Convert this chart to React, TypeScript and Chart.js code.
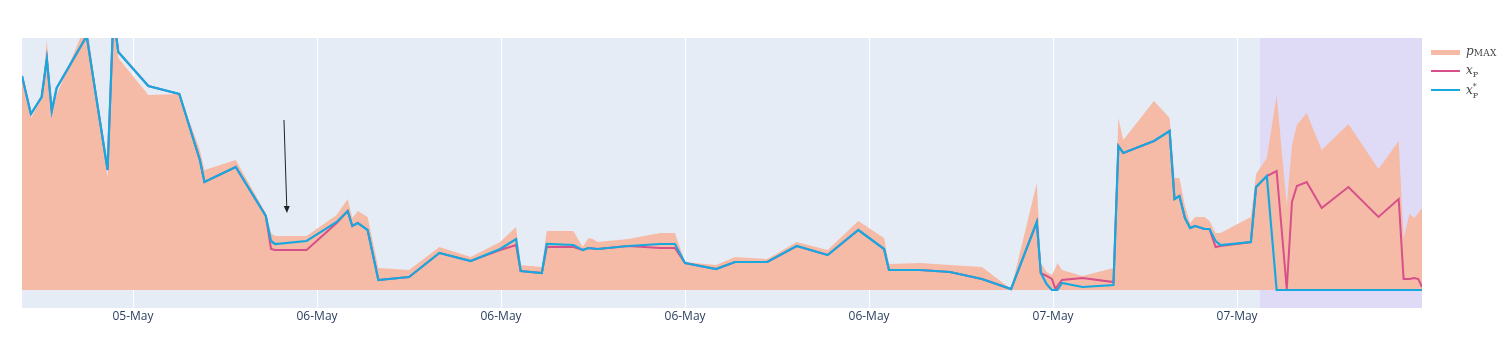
import React, { useEffect, useRef } from "react";
import { Chart, registerables } from "chart.js";

Chart.register(...registerables);

// hours since 05-May 00:00
const timeHours = [
  14.38, 14.67, 15.02, 15.19, 15.35, 15.51, 16.49, 17.17, 17.36, 17.52,
  18.5, 19.51, 20.18, 20.33, 21.35, 22.33, 22.5, 22.63, 23.66, 24.64,
  25.0, 25.15, 25.33, 25.65, 26.0, 27.0, 27.99, 29.01, 29.97, 30.49,
  30.64, 31.33, 31.49, 32.36, 32.66, 32.85, 32.99, 33.15, 34.15, 35.19,
  35.67, 36.0, 37.01, 37.63, 38.68, 39.64, 40.65, 41.65, 42.49, 42.65,
  43.66, 44.64, 45.68, 46.63, 47.47, 47.6, 47.79, 47.96, 48.08, 48.14,
  48.29, 48.96, 49.97, 50.13, 50.29, 51.29, 51.8, 51.96, 52.12, 52.3,
  52.47, 52.63, 52.94, 53.1, 53.3, 53.46, 54.45, 54.62, 54.97, 55.29,
  55.62, 55.79, 55.95, 56.27, 56.76, 57.63, 58.61, 59.27, 59.43, 59.62,
  59.78, 59.91, 60.03,
];

const pMax = [
  210, 172, 192, 250, 179, 195, 268, 112, 275, 232,
  195, 196, 140, 120, 130, 77, 57, 54, 54, 75,
  91, 72, 79, 73, 22, 20, 43, 33, 48, 63,
  25, 23, 59, 59, 43, 52, 51, 48, 51, 57,
  57, 28, 25, 33, 31, 48, 40, 69, 52, 26,
  27, 25, 23, 1, 107, 27, 18, 15, 22, 27,
  20, 14, 22, 172, 150, 189, 172, 112, 112, 84,
  67, 73, 73, 69, 57, 57, 73, 116, 132, 195,
  85, 145, 165, 177, 140, 166, 121, 149, 52, 76,
  72, 77, 82,
];

const xP = [
  214, 176, 193, 231, 179, 202, 254, 120, 275, 238,
  204, 196, 130, 108, 123, 74, 41, 40, 40, 67,
  79, 64, 67, 60, 10, 13, 37, 29, 40, 45,
  19, 17, 43, 43, 40, 42, 41.5, 41, 44, 42,
  42, 27, 21, 28, 28, 44, 35, 60, 41, 20,
  20, 18, 11, 1, 68, 17, 14, 11, 1, 4,
  10, 12, 8, 144, 137, 149, 159, 91, 94, 72,
  62, 64, 61, 61, 43, 44, 48, 103, 114, 119,
  1, 88, 104, 108, 82, 103, 73, 91, 11, 11,
  12, 11, 3,
];

const xPStar = [
  214, 176, 193, 231, 179, 202, 254, 120, 275, 238,
  204, 196, 130, 108, 123, 74, 49, 46, 49, 68,
  79, 64, 67, 60, 10, 13, 37, 29, 41, 51,
  19, 17, 46, 45, 40, 42, 41.5, 41, 44, 46,
  46, 27, 21, 28, 28, 44, 35, 60, 41, 20,
  20, 18, 11, 1, 68, 17, 6, 0, 0, 0,
  7, 3, 5, 144, 137, 149, 159, 91, 94, 72,
  62, 64, 61, 61, 49, 45, 48, 103, 114, 0,
  0, 0, 0, 0, 0, 0, 0, 0, 0, 0,
  0, 0, 0,
];

const tickHours = [18, 24, 30, 36, 42, 48, 54];
const monthLabel = "May";
const shadeRange = [54.75, 60.03];
const arrowTarget = { x: 23.02, y: 77 };

const X_MIN = 14.38;
const X_MAX = 60.03;
const Y_MIN = -18;
const Y_MAX = 252;

const PINK = "#d6508a";
const BLUE = "#17a8e0";
const FILL = "#f6bba7";

function toPoints(vals: number[]) {
  return vals.map((v, i) => ({ x: timeHours[i], y: v }));
}

export default function App() {
  const ref = useRef<HTMLCanvasElement | null>(null);

  useEffect(() => {
    if (!ref.current) return;

    const bgPlugin = {
      id: "plotBg",
      beforeDraw(chart: any) {
        const { ctx, chartArea } = chart;
        ctx.save();
        ctx.fillStyle = "#e5ecf6";
        ctx.fillRect(chartArea.left, chartArea.top, chartArea.right - chartArea.left, chartArea.bottom - chartArea.top);
        ctx.restore();
      },
      beforeDatasetsDraw(chart: any) {
        const { ctx, chartArea, scales } = chart;
        const x0 = scales.x.getPixelForValue(shadeRange[0]);
        const x1 = scales.x.getPixelForValue(shadeRange[1]);
        ctx.save();
        ctx.fillStyle = "#dfdbf7";
        ctx.fillRect(x0, chartArea.top, x1 - x0, chartArea.bottom - chartArea.top);
        ctx.restore();
      },
      afterDatasetsDraw(chart: any) {
        const { ctx, scales } = chart;
        const hx = scales.x.getPixelForValue(arrowTarget.x);
        const hy = scales.y.getPixelForValue(arrowTarget.y);
        const tx = hx - 3;
        const ty = hy - 93;
        const ang = Math.atan2(hy - ty, hx - tx);
        ctx.save();
        ctx.strokeStyle = "#222";
        ctx.fillStyle = "#222";
        ctx.lineWidth = 1;
        ctx.beginPath();
        ctx.moveTo(tx, ty);
        ctx.lineTo(hx - Math.cos(ang) * 4, hy - Math.sin(ang) * 4);
        ctx.stroke();
        ctx.beginPath();
        ctx.moveTo(hx, hy);
        ctx.lineTo(hx - Math.cos(ang) * 7 + Math.sin(ang) * 3, hy - Math.sin(ang) * 7 - Math.cos(ang) * 3);
        ctx.lineTo(hx - Math.cos(ang) * 7 - Math.sin(ang) * 3, hy - Math.sin(ang) * 7 + Math.cos(ang) * 3);
        ctx.closePath();
        ctx.fill();
        ctx.restore();
      },
    };

    const chart = new Chart(ref.current, {
      type: "line",
      data: {
        datasets: [
          {
            label: "x*P",
            data: toPoints(xPStar),
            borderColor: BLUE,
            borderWidth: 2.2,
            pointRadius: 0,
            fill: false,
            tension: 0,
            order: 0,
          },
          {
            label: "xP",
            data: toPoints(xP),
            borderColor: PINK,
            borderWidth: 2,
            pointRadius: 0,
            fill: false,
            tension: 0,
            order: 1,
          },
          {
            label: "pMAX",
            data: toPoints(pMax),
            borderColor: FILL,
            borderWidth: 0,
            backgroundColor: FILL,
            pointRadius: 0,
            fill: "origin",
            tension: 0,
            order: 2,
          },
        ],
      },
      options: {
        responsive: false,
        animation: false,
        layout: { padding: { left: 22, right: 90, top: 38, bottom: 0 } },
        plugins: { legend: { display: false }, tooltip: { enabled: false } },
        scales: {
          x: {
            type: "linear",
            min: X_MIN,
            max: X_MAX,
            grid: { color: "#ffffff", lineWidth: 1, drawTicks: false },
            border: { display: false },
            afterBuildTicks: (scale: any) => {
              scale.ticks = tickHours.map((v) => ({ value: v }));
            },
            afterFit: (scale: any) => {
              scale.height = 48;
            },
            ticks: {
              padding: 1,
              color: "#2a3f5f",
              font: { family: "'Open Sans', sans-serif", size: 12 },
              maxRotation: 0,
              autoSkip: false,
              callback: (v: any) => {
                const day = 5 + Math.floor(Number(v) / 24);
                return `${String(day).padStart(2, "0")}-${monthLabel}`;
              },
            },
          },
          y: {
            type: "linear",
            min: Y_MIN,
            max: Y_MAX,
            display: false,
            grid: { display: false },
          },
        },
      },
      plugins: [bgPlugin],
    });
    return () => chart.destroy();
  }, []);

  const textStyle: React.CSSProperties = {
    position: "absolute",
    left: 1466,
    fontFamily: "'DejaVu Serif', 'Liberation Serif', serif",
    color: "#444",
    fontSize: 12,
    lineHeight: "14px",
    whiteSpace: "nowrap",
  };

  return (
    <div style={{ position: "fixed", left: 0, top: 0, width: 1512, height: 356, background: "#fff" }}>
      <canvas ref={ref} width={1512} height={356} style={{ width: 1512, height: 356, display: "block" }} />
      <div style={{ position: "absolute", left: 1431, top: 50, width: 29, height: 5, background: FILL }} />
      <div style={{ position: "absolute", left: 1431, top: 70, width: 29, height: 2, background: PINK }} />
      <div style={{ position: "absolute", left: 1431, top: 89, width: 29, height: 2, background: BLUE }} />
      <div style={{ ...textStyle, top: 44 }}>
        <i>p</i>
        <span style={{ fontSize: 9, verticalAlign: "-1px", letterSpacing: 0.3 }}>MAX</span>
      </div>
      <div style={{ ...textStyle, top: 63 }}>
        <i>x</i>
        <span style={{ fontSize: 8, verticalAlign: "-3px" }}>P</span>
      </div>
      <div style={{ ...textStyle, top: 83 }}>
        <i>x</i>
        <span style={{ display: "inline-block", position: "relative", width: 7, height: 14, verticalAlign: "top" }}>
          <span style={{ position: "absolute", left: 0, top: -3, fontSize: 8 }}>*</span>
          <span style={{ position: "absolute", left: 0, top: 6, fontSize: 8 }}>P</span>
        </span>
      </div>
    </div>
  );
}
